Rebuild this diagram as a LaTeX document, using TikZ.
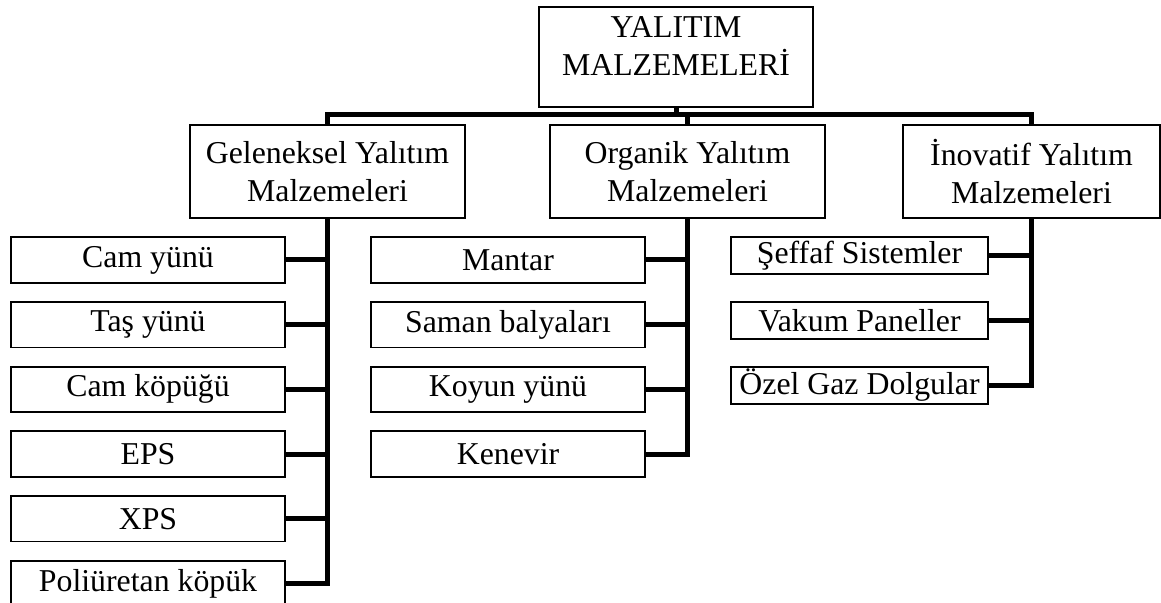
\documentclass[tikz,border=0pt]{standalone}
\usepackage{fontspec}
\setmainfont{Liberation Serif}
\usetikzlibrary{positioning}

\begin{document}
\begin{tikzpicture}[
    x=0.5pt, y=-0.5pt,                      % one unit = one pixel of the sheet
    every node/.style = {font=\fontsize{15.9}{18.8}\selectfont},
    box/.style      = {rectangle, draw, line width=0.9pt, align=center, inner sep=1pt},
    rootbox/.style  = {box, minimum width=137pt, minimum height=50pt, text depth=11pt},
    groupbox/.style = {box, minimum width=137.5pt, minimum height=46.5pt},
    itembox/.style  = {box, minimum width=137pt, minimum height=22.75pt},
    smallbox/.style = {box, minimum width=128.5pt, minimum height=18.5pt},
    trunk/.style    = {line width=2.5pt}
  ]
  \useasboundingbox (0,0) rectangle (1161,603);

  % top and second level
  \node[rootbox] (root) at (676,57) {YALITIM\\MALZEMELERİ};
  \node[groupbox] (gel) at (327.5,171.5) {Geleneksel Yalıtım\\Malzemeleri};
  \node[groupbox] (org) at (687.5,171.5) {Organik Yalıtım\\Malzemeleri};
  \node[groupbox, minimum width=128.5pt] (ino) at (1031.5,171.5) {İnovatif Yalıtım\\Malzemeleri};

  % materials
  \foreach \txt [count=\i] in {Cam yünü, Taş yünü, Cam köpüğü, EPS, XPS, Poliüretan köpük}
    \node[itembox] (gel\i) at (148,195.3+64.7*\i) {\txt};
  \foreach \txt [count=\i] in {Mantar, Saman balyaları, Koyun yünü, Kenevir}
    \node[itembox] (org\i) at (508,195.3+64.7*\i) {\txt};
  \foreach \txt [count=\i] in {Şeffaf Sistemler, Vakum Paneller, Özel Gaz Dolgular}
    \node[smallbox] (ino\i) at (859.5,190.9+64.8*\i) {\txt};

  % bus under the root
  \coordinate (bus) at (0,115);
  \draw[trunk] (root.south) -- (root.south |- bus);
  \draw[trunk] (gel.north) |- (bus -| ino.north) -- (ino.north);
  \draw[trunk] (org.north) -- (org.north |- bus);

  % trunks down to the materials
  \draw[trunk] (gel.south) |- (gel6.east);
  \draw[trunk] (org.south) |- (org4.east);
  \draw[trunk] (ino.south) |- (ino3.east);
  \foreach \i in {1,...,5}
    \draw[trunk] (gel\i.east) -- (gel\i.east -| gel.south);
  \foreach \i in {1,...,3}
    \draw[trunk] (org\i.east) -- (org\i.east -| org.south);
  \foreach \i in {1,2}
    \draw[trunk] (ino\i.east) -- (ino\i.east -| ino.south);

\end{tikzpicture}
\end{document}
